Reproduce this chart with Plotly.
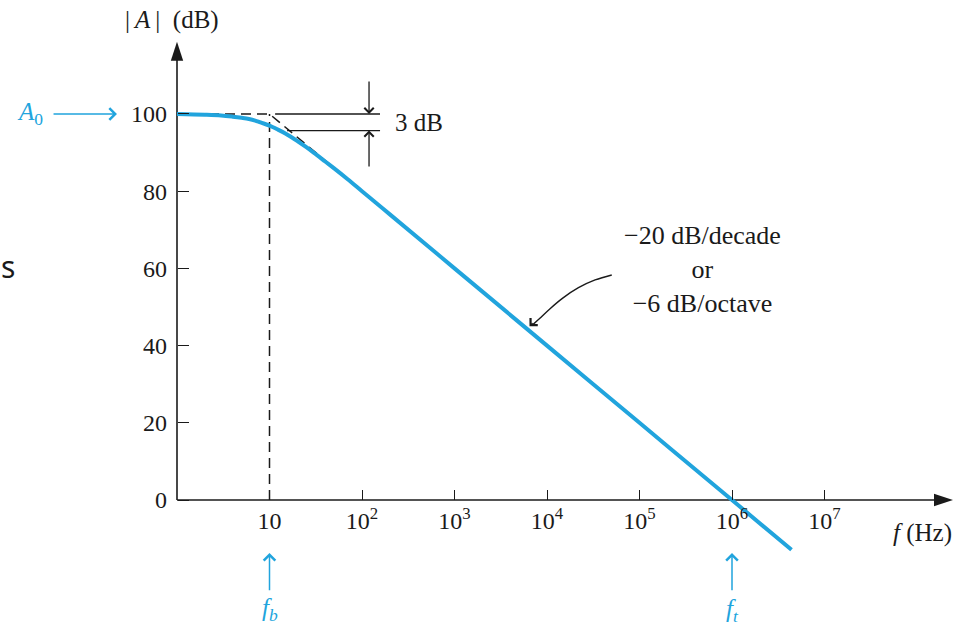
import plotly.graph_objects as go

# ---------------- data ----------------
freq_hz = [1, 2, 3, 4, 5, 6, 7, 8, 10, 12, 15, 20, 25, 30, 40, 50, 70, 100,
           150, 200, 1e3, 1e4, 1e5, 1e6, 4.4e6]
gain_db = [100, 99.8, 99.6, 99.3, 99.0, 98.7, 98.3, 97.8, 97.0, 96.1, 94.9,
           93.0, 91.4, 90.0, 87.7, 85.9, 83.1, 80.0, 76.5, 74.0, 60.0, 40.0,
           20.0, 0.0, -12.9]

A0_db = 100
f_b = 10
f_t = 1e6
asym_f = [1, f_b, 100]
asym_db = [A0_db, A0_db, 80]
three_db_top = 100
three_db_bottom = 95.7

x_tickvals = [10, 1e2, 1e3, 1e4, 1e5, 1e6, 1e7]
x_ticktext = ["10", "10<sup>2</sup>", "10<sup>3</sup>", "10<sup>4</sup>",
              "10<sup>5</sup>", "10<sup>6</sup>", "10<sup>7</sup>"]
y_tickvals = [0, 20, 40, 60, 80, 100]

# axis extents (axis arrows)
x_axis_end_hz = 10 ** 8.389
y_axis_end_db = 118.7

# curved pointer to the roll-off line (log10 f, dB)
ptr_logf = [4.70, 4.52, 4.34, 4.17, 4.03, 3.92, 3.85]
ptr_db = [58.3, 57.0, 55.0, 52.3, 49.5, 47.0, 45.5]

# ---------------- styling ----------------
BLUE = "#21A4DD"
BLACK = "#1a1a1a"
SERIF = "Liberation Serif"
XR = [-1.9135, 8.5297]   # log10 range
YR = [-32.90, 129.53]
x_pos = (0 - XR[0]) / (XR[1] - XR[0])
y_pos = (0 - YR[0]) / (YR[1] - YR[0])

fig = go.Figure()

def line(x, y, color=BLACK, width=1.5, dash=None, shape="linear"):
    fig.add_trace(go.Scatter(x=x, y=y, mode="lines", hoverinfo="skip",
                             showlegend=False,
                             line=dict(color=color, width=width, dash=dash,
                                       shape=shape)))

# axes lines + arrow tips
line([1, 1], [0, y_axis_end_db - 3], width=1.6)
line([1, 10 ** 8.30], [0, 0], width=1.6)
fig.add_trace(go.Scatter(x=[1, x_axis_end_hz], y=[y_axis_end_db, 0],
                         mode="markers", hoverinfo="skip", showlegend=False,
                         marker=dict(symbol="arrow", size=20, angle=[0, 90],
                                     color=BLACK, line=dict(width=0))))

# dashed asymptotes / guide
line(asym_f, asym_db, dash="10px,6px")
line([f_b, f_b], [0, A0_db], dash="10px,6px")
# 3 dB marker lines
line([11.5, 156.7], [three_db_top, three_db_top], width=1.3)
line([15.5, 156.7], [three_db_bottom, three_db_bottom], width=1.3)
# curved pointer
line([10 ** v for v in ptr_logf], ptr_db, width=1.4, shape="spline")
# response curve
line(freq_hz, gain_db, color=BLUE, width=4, shape="spline")

ann = []

def arrow(x, y, ax, ay, color=BLACK, head=4, width=1.3, size=1.4):
    ann.append(dict(x=x, y=y, ax=ax, ay=ay, xref="x", yref="y", axref="x",
                    ayref="y", text="", showarrow=True, arrowhead=head,
                    arrowsize=size, arrowwidth=width, arrowcolor=color,
                    standoff=0, startstandoff=0))

def text(x, y, t, size=25, color=BLACK, xanchor="center", family=SERIF):
    ann.append(dict(x=x, y=y, xref="x", yref="y", text=t, showarrow=False,
                    xanchor=xanchor, yanchor="middle",
                    font=dict(family=family, size=size, color=color)))

# 3 dB arrows
arrow(2.076, three_db_top, 2.076, 108.8)
arrow(2.076, three_db_bottom, 2.076, 86.0)
# pointer head
arrow(3.811, 45.0, 3.86, 46.2, size=1.5)
# blue markers
arrow(-0.649, A0_db, -1.351, A0_db, color=BLUE, width=1.5, size=1.5)
arrow(1, -13.7, 1, -23.8, color=BLUE, width=1.5, size=1.5)
arrow(6, -13.7, 6, -23.8, color=BLUE, width=1.5, size=1.5)

# texts
text(-0.054, 124.4, "|\u2009<i>A</i>\u2009|\u2002(dB)")
text(2.335, 97.9, "3 dB", xanchor="left")
text(5.676, 59.6, "\u221220 dB/decade<br>or<br>\u22126 dB/octave", size=26)
text(8.054, -8.5, "<i>f</i> (Hz)")
text(-1.589, A0_db, "<i>A</i><sub>0</sub>", color=BLUE)
text(1, -28.4, "<i>f<sub>b</sub></i>", color=BLUE)
text(6, -28.6, "<i>f<sub>t</sub></i>", color=BLUE)
text(-1.827, 60.4, "s", size=30, family="Noto Sans")

fig.update_layout(
    width=966, height=627, autosize=False,
    margin=dict(l=0, r=0, t=0, b=0, pad=0),
    paper_bgcolor="white", plot_bgcolor="white",
    annotations=ann,
    xaxis=dict(type="log", range=XR, anchor="free", position=y_pos,
               tickvals=x_tickvals, ticktext=x_ticktext, ticks="inside",
               ticklen=10, tickwidth=1.3, tickcolor=BLACK, showline=False,
               showgrid=False, zeroline=False, automargin=False,
               ticklabelstandoff=4,
               tickfont=dict(family=SERIF, size=24, color=BLACK)),
    yaxis=dict(range=YR, anchor="free", position=x_pos,
               tickvals=y_tickvals, ticks="inside", ticklen=11,
               tickwidth=1.3, tickcolor=BLACK, showline=False,
               showgrid=False, zeroline=False, automargin=False,
               ticklabelstandoff=10,
               tickfont=dict(family=SERIF, size=24, color=BLACK)),
)

fig.write_html("out.html", config={"displayModeBar": False},
               post_script="document.body.style.margin='0px';")
